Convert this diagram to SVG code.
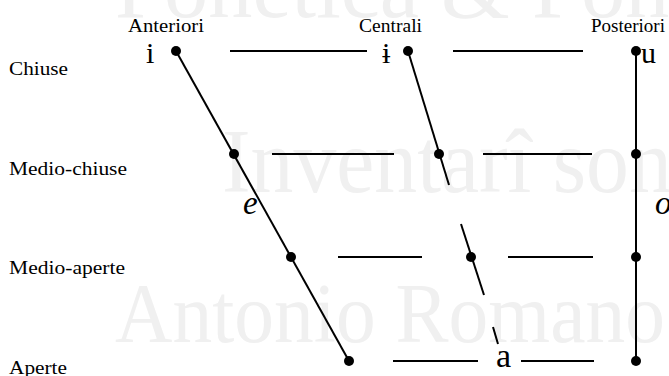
<svg xmlns="http://www.w3.org/2000/svg" width="669" height="376" viewBox="0 0 669 376">
<style>
.wm{font-family:"Liberation Serif","DejaVu Serif",serif;fill:#f0f0f0}
.lbl{font-family:"Liberation Serif","DejaVu Serif",serif;font-size:19px;fill:#000}
.v{font-family:"Liberation Serif","DejaVu Serif",serif;font-size:30px;fill:#000}
.va{font-family:"Liberation Serif","DejaVu Serif",serif;font-size:34px;fill:#000}
.vi{font-family:"Liberation Serif","DejaVu Serif",serif;font-size:33px;font-style:italic;fill:#000}
.dot{fill:#000}
.ln{stroke:#000;stroke-width:2;fill:none}
</style>
<rect width="669" height="376" fill="#fff"/>
<g id="watermark">
<text class="wm" x="115" y="17" font-size="88" textLength="775" lengthAdjust="spacingAndGlyphs">Fonetica &amp; Fonologia</text>
<text class="wm" x="222" y="192" font-size="90" textLength="545" lengthAdjust="spacingAndGlyphs">Inventarî sonori</text>
<text class="wm" x="115" y="342" font-size="84" textLength="550" lengthAdjust="spacingAndGlyphs">Antonio Romano</text>
</g>
<g id="headers">
<text class="lbl" x="128" y="32" textLength="76" lengthAdjust="spacingAndGlyphs">Anteriori</text>
<text class="lbl" x="359" y="32" textLength="63" lengthAdjust="spacingAndGlyphs">Centrali</text>
<text class="lbl" x="591" y="32" textLength="74" lengthAdjust="spacingAndGlyphs">Posteriori</text>
<text class="lbl" x="9" y="75" textLength="59" lengthAdjust="spacingAndGlyphs">Chiuse</text>
<text class="lbl" x="9" y="175" textLength="118" lengthAdjust="spacingAndGlyphs">Medio-chiuse</text>
<text class="lbl" x="9" y="274" textLength="116" lengthAdjust="spacingAndGlyphs">Medio-aperte</text>
<text class="lbl" x="9" y="374" textLength="58" lengthAdjust="spacingAndGlyphs">Aperte</text>
</g>
<g id="connectors">
<line class="ln" x1="176" y1="51" x2="349" y2="361"/>
<line class="ln" x1="408" y1="51" x2="449" y2="185"/>
<line class="ln" x1="461" y1="224" x2="484" y2="295"/>
<line class="ln" x1="493" y1="327" x2="498" y2="344"/>
<line class="ln" x1="636" y1="51" x2="636" y2="361"/>
<line class="ln" x1="230" y1="51" x2="367" y2="51"/>
<line class="ln" x1="453" y1="51" x2="583" y2="51"/>
<line class="ln" x1="272" y1="154" x2="394" y2="154"/>
<line class="ln" x1="483" y1="154" x2="592" y2="154"/>
<line class="ln" x1="338" y1="257" x2="422" y2="257"/>
<line class="ln" x1="508" y1="257" x2="593" y2="257"/>
<line class="ln" x1="393" y1="361" x2="478" y2="361"/>
<line class="ln" x1="521" y1="361" x2="594" y2="361"/>
</g>
<g id="n-i"><circle class="dot" cx="176" cy="51" r="5"/><text class="v" x="146" y="63">i</text></g>
<g id="n-e-close"><circle class="dot" cx="234" cy="154" r="5"/></g>
<g id="n-e-label"><text class="vi" x="243" y="214">e</text></g>
<g id="n-e-open"><circle class="dot" cx="291" cy="257" r="5"/></g>
<g id="n-front-open"><circle class="dot" cx="349" cy="361" r="5"/></g>
<g id="n-barred-i"><circle class="dot" cx="408" cy="51" r="5"/><text class="v" x="382" y="63">ɨ</text></g>
<g id="n-central-midclose"><circle class="dot" cx="439" cy="154" r="5"/></g>
<g id="n-central-midopen"><circle class="dot" cx="471" cy="257" r="5"/></g>
<g id="n-a"><text class="va" x="496" y="367">a</text></g>
<g id="n-u"><circle class="dot" cx="636" cy="51" r="5"/><text class="v" x="641" y="63">u</text></g>
<g id="n-o-close"><circle class="dot" cx="636" cy="154" r="5"/></g>
<g id="n-o-label"><text class="vi" x="655" y="214">o</text></g>
<g id="n-o-open"><circle class="dot" cx="636" cy="257" r="5"/></g>
<g id="n-back-open"><circle class="dot" cx="636" cy="361" r="5"/></g>
</svg>
